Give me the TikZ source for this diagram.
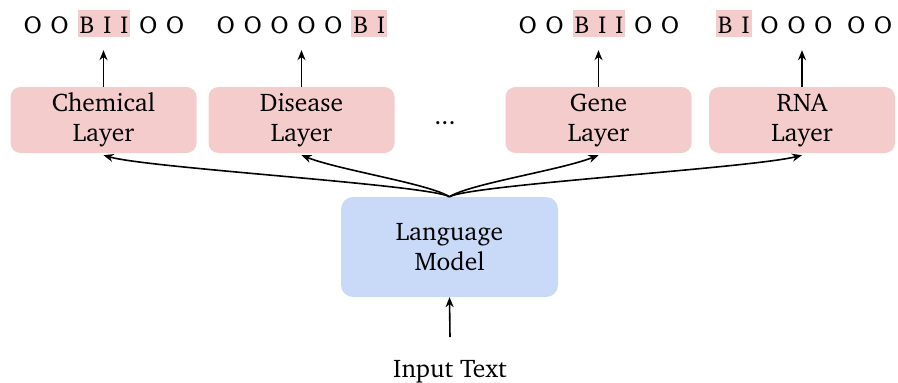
\documentclass[tikz,border=0pt]{standalone}
\usepackage[T1]{fontenc}
\usepackage{charter}
\usetikzlibrary{arrows.meta}
\definecolor{pinkbox}{HTML}{F4CCCC}
\definecolor{bluebox}{HTML}{C9DAF8}
\newcommand\hlbox[1]{{\setlength\fboxsep{2pt}\colorbox{pinkbox}{\rule[-2pt]{0pt}{23pt}#1}}}
\newcommand\tagsp{\spaceskip=9pt\relax}
\tikzset{
  boxfont/.style={font=\fontsize{25.5}{30}\selectfont},
  layerbox/.style={boxfont, fill=pinkbox, rounded corners=10pt, minimum width=186pt, minimum height=66pt, inner sep=0pt, align=center},
  lmbox/.style={boxfont, fill=bluebox, rounded corners=12pt, minimum width=217pt, minimum height=100pt, inner sep=0pt, align=center},
  tagrow/.style={anchor=base, inner sep=0pt, font=\fontsize{24.5}{28}\selectfont},
  conn/.style={line width=1.6pt, -{Stealth[length=10pt,width=8pt]}},
}
\begin{document}
\begin{tikzpicture}[x=1pt,y=-1pt]
\useasboundingbox (0,0) rectangle (898,383);
% layer boxes
\node[layerbox] (chem) at (103.5,120) {Chemical\\Layer};
\node[layerbox] (dis) at (301.5,120) {Disease\\Layer};
\node[layerbox] (gene) at (598.5,120) {Gene\\Layer};
\node[layerbox] (rna) at (802,120) {RNA\\Layer};
\node[boxfont, inner sep=0pt, anchor=base] (dots) at (445,124) {...};
% language model
\node[lmbox] (lm) at (449.5,247) {Language\\Model};
% input
\node[boxfont, anchor=base, inner sep=0pt, outer sep=0pt] (inp) at (450,377) {Input Text};
\coordinate (inptop) at (450,337);
% tag rows
\node[tagrow] (t1) at (104,33) {\tagsp O O \hlbox{B I I} O O};
\node[tagrow] (t2) at (302,33) {\tagsp O O O O O \hlbox{B I}};
\node[tagrow] (t3) at (599,33) {\tagsp O O \hlbox{B I I} O O};
\node[tagrow] (t4) at (804,33) {\tagsp \hlbox{B I} O O O\hspace{6pt} O O};
% arrows to tags
\draw[conn, shorten >=13pt] (chem.north) -- (chem.north |- t1.south);
\draw[conn, shorten >=13pt] (dis.north) -- (dis.north |- t2.south);
\draw[conn, shorten >=13pt] (gene.north) -- (gene.north |- t3.south);
\draw[conn, shorten >=13pt] (rna.north) -- (rna.north |- t4.south);
% input arrow
\draw[conn] (inptop) -- (lm.south);
% curves
\draw[conn] (lm.north) .. controls +(-20,-12) and +(45,13) .. ([yshift=-2pt]chem.south);
\draw[conn] (lm.north) .. controls +(-20,-13) and +(38,15) .. ([yshift=-2pt]dis.south);
\draw[conn] (lm.north) .. controls +(20,-13) and +(-38,15) .. ([yshift=-2pt]gene.south);
\draw[conn] (lm.north) .. controls +(20,-12) and +(-52,13) .. ([yshift=-2pt]rna.south);
\end{tikzpicture}
\end{document}
